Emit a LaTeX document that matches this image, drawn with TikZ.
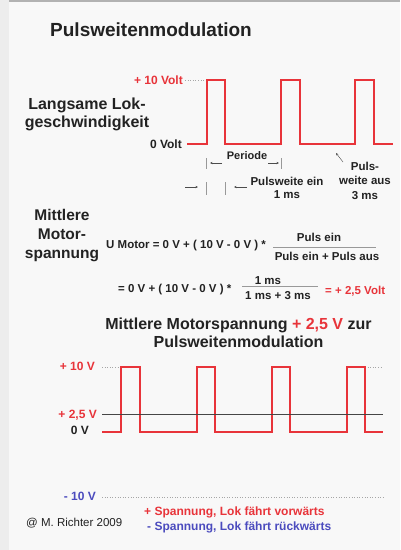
\documentclass[tikz,border=0pt]{standalone}
\usepackage{fontspec}
\setmainfont{Liberation Sans}
\usetikzlibrary{arrows.meta}
\definecolor{pwmred}{HTML}{E8343A}
\definecolor{pwmblue}{HTML}{4B4BBE}
\definecolor{ink}{HTML}{222222}
\definecolor{paper}{HTML}{F8F8F8}
\tikzset{
  lbl/.style={font=\bfseries\fontsize{12}{14}\selectfont, text=ink, inner sep=0pt},
  small/.style={font=\bfseries\fontsize{11.5}{12.5}\selectfont, text=ink, inner sep=0pt, align=center},
  head/.style={font=\bfseries\fontsize{16}{18}\selectfont, text=ink, inner sep=0pt, align=center},
  wave/.style={draw=pwmred, line width=1.3pt, line join=miter},
  dots/.style={draw=gray!70, dotted, line width=0.6pt},
  tickmark/.style={draw=gray!80, line width=0.6pt},
  marrow/.style={draw=gray!60!black, line width=0.4pt, -{Stealth[length=2.5pt,width=2.2pt]}},
  fracbar/.style={draw=gray!80, line width=0.7pt},
}
\begin{document}
\begin{tikzpicture}[x=1pt,y=-1pt]
\useasboundingbox (0,0) rectangle (400,550);
\fill[paper] (0,0) rectangle (400,550);
\fill[gray!14] (0,0) rectangle (9,550);
\fill[gray!60] (9,0) rectangle (400,1.5);

% title
\node[font=\bfseries\fontsize{19}{22}\selectfont, text=ink, inner sep=0pt] (title) at (151,30) {Pulsweitenmodulation};

% top section
\node[head] (lok) at (87,114) {Langsame Lok-\\geschwindigkeit};
\node[lbl, text=pwmred, anchor=east] (top10) at (183,80) {+ 10 Volt};
\node[lbl, anchor=east] (top0) at (182,144.5) {0 Volt};
\coordinate (tw0) at (187,144);
\coordinate (tw1) at (207,80);
\coordinate (tw2) at (225,144);
\coordinate (tw3) at (281,80);
\coordinate (tw4) at (300,144);
\coordinate (tw5) at (355,80);
\coordinate (tw6) at (374,144);
\coordinate (tw7) at (393,144);
\draw[dots] (185,80) -- (tw1);
\draw[wave] (tw0) -| (tw1) -| (tw2) -| (tw3) -| (tw4) -| (tw5) -| (tw6) -- (tw7);

% period marks
\node[font=\bfseries\fontsize{11}{12}\selectfont, text=ink, inner sep=0pt] (periode) at (247,156) {Periode};
\coordinate (pl) at (206,163);
\coordinate (pr) at (281,163);
\draw[tickmark] (206,158) -- (206,169);
\draw[tickmark] (281,158) -- (281,169);
\draw[marrow] (222,163) -- (210,163);
\draw[marrow] (268,163) -- (279,163);

% pulse width marks
\draw[marrow] (185,187) -- (198,187);
\draw[tickmark] (206,182) -- (206,195);
\draw[tickmark] (225,182) -- (225,195);
\draw[marrow] (247,187) -- (234,187);
\node[small] (pein) at (287,188) {Pulsweite ein\\1 ms};
\node[small, font=\bfseries\fontsize{11.5}{14.5}\selectfont] (paus) at (365,180.5) {Puls-\\weite aus\\3 ms};
\draw[marrow] (343,162) -- (336,153);

% middle section
\node[font=\bfseries\fontsize{15.5}{19}\selectfont, text=ink, inner sep=0pt, align=center] (mittl) at (62,236) {Mittlere\\Motor-\\spannung};
\node[small, anchor=west] (eq1) at (106,246) {U Motor = 0 V + ( 10 V - 0 V ) *};
\node[small] (num1) at (319,237) {Puls ein};
\draw[fracbar] (273,247) -- (376,247);
\node[small] (den1) at (327,256) {Puls ein + Puls aus};
\node[small, anchor=west] (eq2) at (118,290) {= 0 V + ( 10 V - 0 V ) *};
\node[small] (num2) at (268,281) {1 ms};
\draw[fracbar] (242,286.5) -- (318,286.5);
\node[small] (den2) at (278,296) {1 ms + 3 ms};
\node[small, text=pwmred, anchor=west] (res) at (325,291) {= + 2,5 Volt};

% bottom title
\node[head] (btitle) at (238.5,333) {Mittlere Motorspannung \textcolor{pwmred}{+ 2,5 V} zur\\Pulsweitenmodulation};

% bottom labels
\node[lbl, text=pwmred, anchor=east] (b10) at (95,366) {+ 10 V};
\node[lbl, text=pwmred, anchor=east] (b25) at (97,415) {+ 2,5 V};
\node[lbl, anchor=east] (b0) at (89,430) {0 V};
\node[lbl, text=pwmblue, anchor=east] (bm10) at (96,496) {- 10 V};

% bottom waveform
\coordinate (bw0) at (102,432);
\coordinate (bw1) at (121,367);
\coordinate (bw2) at (140,432);
\coordinate (bw3) at (197,367);
\coordinate (bw4) at (215,432);
\coordinate (bw5) at (272,367);
\coordinate (bw6) at (290,432);
\coordinate (bw7) at (347,367);
\coordinate (bw8) at (365,432);
\coordinate (bw9) at (383,432);
\draw[dots] (102,367) -- (bw1);
\draw[dots] (365,367) -- (383,367);
\draw[wave] (bw0) -| (bw1) -| (bw2) -| (bw3) -| (bw4) -| (bw5) -| (bw6) -| (bw7) -| (bw8) -- (bw9);
\draw[draw=gray!55!black, line width=0.8pt] (102,414) -- (383,414);
\draw[dots] (102,497) -- (383,497);

% legend
\node[lbl, text=pwmred, anchor=west] (leg1) at (144,512) {+ Spannung, Lok fährt vorwärts};
\node[lbl, text=pwmblue, anchor=west] (leg2) at (147,527) {- Spannung, Lok fährt rückwärts};
\node[font=\fontsize{11.5}{13}\selectfont, text=ink, inner sep=0pt, anchor=west] (copy) at (26,523) {@ M. Richter 2009};
\end{tikzpicture}
\end{document}
